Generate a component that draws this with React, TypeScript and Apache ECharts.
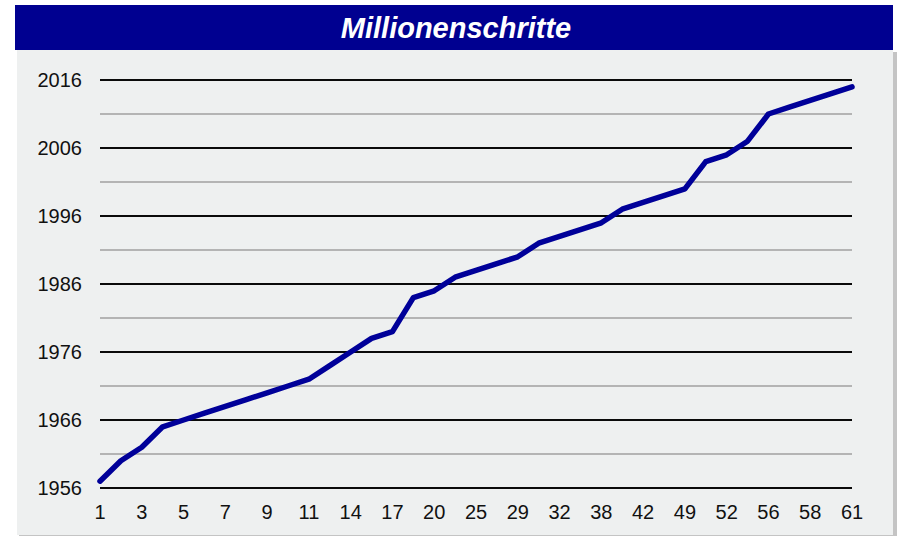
import React, { useEffect, useRef } from "react";
import * as echarts from "echarts";

const categories = [
  "1", "2", "3", "4", "5", "6", "7", "8", "9", "10", "11", "12", "14", "15", "17", "18", "20", "22", "25",
  "27", "29", "30", "32", "35", "38", "40", "42", "45", "49", "50", "52", "54", "56", "57", "58", "60", "61",
];
const years = [
  1957, 1960, 1962, 1965, 1966, 1967, 1968, 1969, 1970, 1971, 1972, 1974, 1976, 1978, 1979, 1984, 1985, 1987, 1988,
  1989, 1990, 1992, 1993, 1994, 1995, 1997, 1998, 1999, 2000, 2004, 2005, 2007, 2011, 2012, 2013, 2014, 2015,
];
const yMin = 1956;
const yMax = 2016;
const titleText = "Millionenschritte";

export default function App() {
  const ref = useRef<HTMLDivElement>(null);
  useEffect(() => {
    const chart = echarts.init(ref.current!, null, { renderer: "svg" });
    chart.setOption({
      animation: false,
      backgroundColor: "#ffffff",
      textStyle: { fontFamily: "Liberation Sans" },
      graphic: [
        { type: "rect", z: -10, shape: { x: 19, y: 52, width: 878, height: 484 }, style: { fill: "#c4c4c4" } },
        { type: "rect", z: -9, shape: { x: 17, y: 50, width: 876, height: 485 }, style: { fill: "#eef0f0" } },
        { type: "rect", z: -8, shape: { x: 15, y: 5, width: 878, height: 45 }, style: { fill: "#000090" } },
        {
          type: "text",
          z: 10,
          x: 456,
          y: 28,
          style: {
            text: titleText,
            fill: "#ffffff",
            font: "italic bold 29px 'Liberation Sans'",
            textAlign: "center",
            textVerticalAlign: "middle",
          },
        },
      ],
      grid: { left: 100, right: 47, top: 80, bottom: 51, containLabel: false },
      xAxis: {
        type: "category",
        data: categories,
        boundaryGap: false,
        axisLine: { show: false },
        axisTick: { show: false },
        splitLine: { show: false },
        axisLabel: { interval: 1, color: "#111", fontSize: 20, margin: 14, fontFamily: "Liberation Sans" },
      },
      yAxis: {
        type: "value",
        min: yMin,
        max: yMax,
        interval: 5,
        axisLine: { show: false },
        axisTick: { show: false },
        axisLabel: {
          color: "#111",
          fontSize: 20,
          margin: 18,
          fontFamily: "Liberation Sans",
          formatter: (v: number) => ((v - yMin) % 10 === 0 ? String(v) : ""),
        },
        splitLine: { show: true, lineStyle: { color: ["#0a0a0a", "#b4b4b4"], width: 2 } },
      },
      series: [
        {
          type: "line",
          data: years,
          showSymbol: false,
          symbol: "none",
          lineStyle: { color: "#000099", width: 5.5, cap: "round", join: "round" },
        },
      ],
    });
    return () => chart.dispose();
  }, []);
  return <div ref={ref} style={{ position: "fixed", left: 0, top: 0, width: 899, height: 539 }} />;
}
